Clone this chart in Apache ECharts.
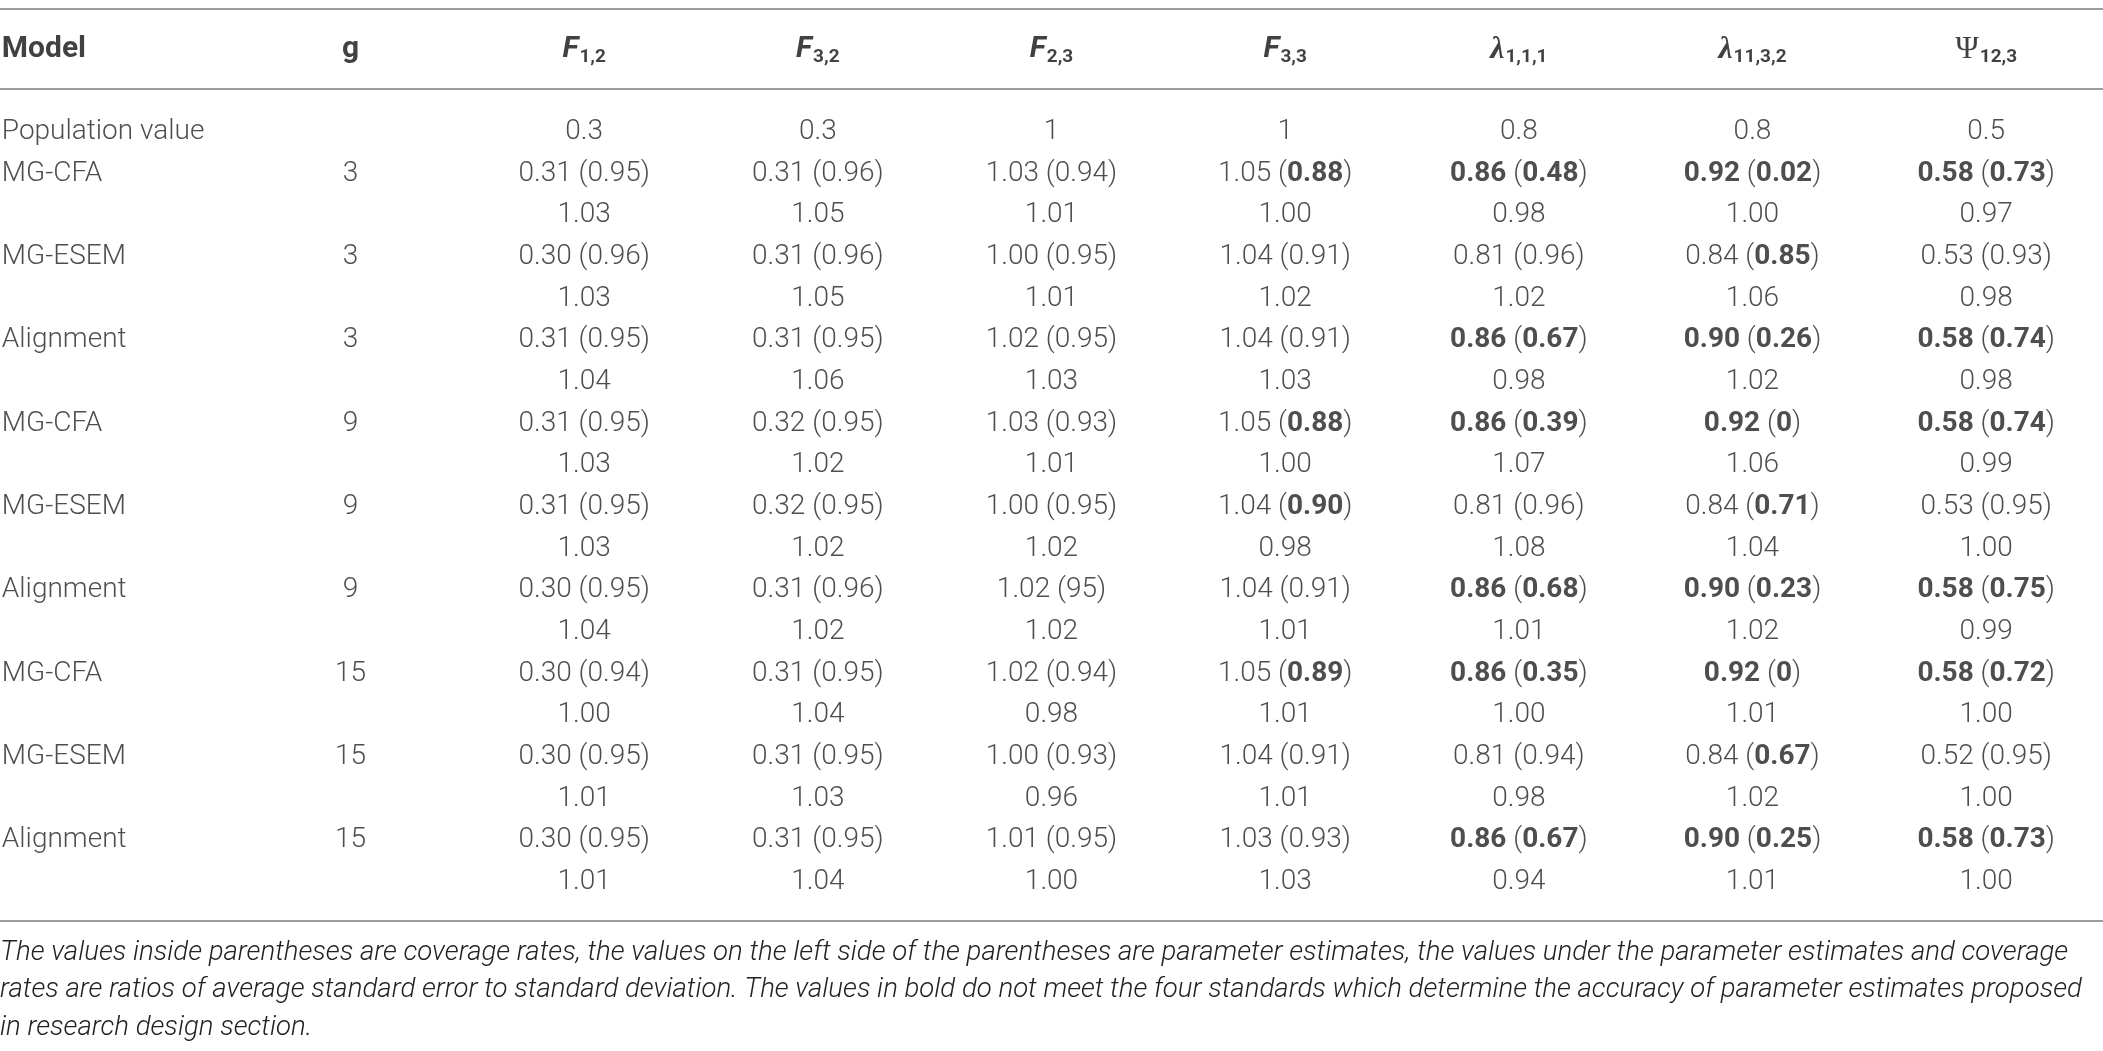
<!DOCTYPE html>
<html>
<head>
<meta charset="utf-8">
<title>Parameter estimates table</title>
<script src="https://cdn.jsdelivr.net/npm/echarts@6/dist/echarts.min.js"></script>
<style>
  html, body { margin: 0; padding: 0; background: #fff; }
  #container { width: 2103px; height: 1051px; }
</style>
</head>
<body>
<div id="container"></div>
<script>
const columnHeaders = [
  "{h|Model}",
  "{h|g}",
  "{fi|F}{sub|1,2}",
  "{fi|F}{sub|3,2}",
  "{fi|F}{sub|2,3}",
  "{fi|F}{sub|3,3}",
  "{lam|λ}{sub|1,1,1}",
  "{lam|λ}{sub|11,3,2}",
  "{psi|Ψ}{sub|12,3}"
];
const models = ["MG-CFA", "MG-ESEM", "Alignment", "MG-CFA", "MG-ESEM", "Alignment", "MG-CFA", "MG-ESEM", "Alignment"];
const groups = ["3", "3", "3", "9", "9", "9", "15", "15", "15"];
const populationValues = ["0.3", "0.3", "1", "1", "0.8", "0.8", "0.5"];
const estimates = [
  ["0.31", "0.31", "1.03", "1.05", "0.86", "0.92", "0.58"],
  ["0.30", "0.31", "1.00", "1.04", "0.81", "0.84", "0.53"],
  ["0.31", "0.31", "1.02", "1.04", "0.86", "0.90", "0.58"],
  ["0.31", "0.32", "1.03", "1.05", "0.86", "0.92", "0.58"],
  ["0.31", "0.32", "1.00", "1.04", "0.81", "0.84", "0.53"],
  ["0.30", "0.31", "1.02", "1.04", "0.86", "0.90", "0.58"],
  ["0.30", "0.31", "1.02", "1.05", "0.86", "0.92", "0.58"],
  ["0.30", "0.31", "1.00", "1.04", "0.81", "0.84", "0.52"],
  ["0.30", "0.31", "1.01", "1.03", "0.86", "0.90", "0.58"]
];
const coverage = [
  ["0.95", "0.96", "0.94", "0.88", "0.48", "0.02", "0.73"],
  ["0.96", "0.96", "0.95", "0.91", "0.96", "0.85", "0.93"],
  ["0.95", "0.95", "0.95", "0.91", "0.67", "0.26", "0.74"],
  ["0.95", "0.95", "0.93", "0.88", "0.39", "0", "0.74"],
  ["0.95", "0.95", "0.95", "0.90", "0.96", "0.71", "0.95"],
  ["0.95", "0.96", "95", "0.91", "0.68", "0.23", "0.75"],
  ["0.94", "0.95", "0.94", "0.89", "0.35", "0", "0.72"],
  ["0.95", "0.95", "0.93", "0.91", "0.94", "0.67", "0.95"],
  ["0.95", "0.95", "0.95", "0.93", "0.67", "0.25", "0.73"]
];
const seRatios = [
  ["1.03", "1.05", "1.01", "1.00", "0.98", "1.00", "0.97"],
  ["1.03", "1.05", "1.01", "1.02", "1.02", "1.06", "0.98"],
  ["1.04", "1.06", "1.03", "1.03", "0.98", "1.02", "0.98"],
  ["1.03", "1.02", "1.01", "1.00", "1.07", "1.06", "0.99"],
  ["1.03", "1.02", "1.02", "0.98", "1.08", "1.04", "1.00"],
  ["1.04", "1.02", "1.02", "1.01", "1.01", "1.02", "0.99"],
  ["1.00", "1.04", "0.98", "1.01", "1.00", "1.01", "1.00"],
  ["1.01", "1.03", "0.96", "1.01", "0.98", "1.02", "1.00"],
  ["1.01", "1.04", "1.00", "1.03", "0.94", "1.01", "1.00"]
];
// column indexes (0 = F1,2 ... 6 = Psi12,3) printed in bold
const boldEstimates = [[4, 5, 6], [], [4, 5, 6], [4, 5, 6], [], [4, 5, 6], [4, 5, 6], [], [4, 5, 6]];
const boldCoverage = [[3, 4, 5, 6], [5], [4, 5, 6], [3, 4, 5, 6], [3, 5], [4, 5, 6], [3, 4, 5, 6], [5], [4, 5, 6]];
const footnote = [
  "The values inside parentheses are coverage rates, the values on the left side of the parentheses are parameter estimates, the values under the parameter estimates and coverage",
  "rates are ratios of average standard error to standard deviation. The values in bold do not meet the four standards which determine the accuracy of parameter estimates proposed",
  "in research design section."
];

const FONT = "Roboto";
const TEXT = "#222";
const RULE = "#9c9c9c";
const HEADER_ROW = -1.97;

function tok(v, bold) {
  return bold ? "{b|" + v + "}" : v;
}

// model / population column (left aligned)
const modelCells = [{ value: [0, 0], cell: "Population value" }];
models.forEach((m, k) => {
  modelCells.push({ value: [0, 1 + 2 * k], cell: m });
});

// g column and parameter columns (centred)
const cells = [];
populationValues.forEach((v, j) => {
  cells.push({ value: [j + 2, 0], cell: v });
});
models.forEach((m, k) => {
  cells.push({ value: [1, 1 + 2 * k], cell: groups[k] });
  estimates[k].forEach((est, j) => {
    const txt = tok(est, boldEstimates[k].includes(j)) + " (" + tok(coverage[k][j], boldCoverage[k].includes(j)) + ")";
    cells.push({ value: [j + 2, 1 + 2 * k], cell: txt });
    cells.push({ value: [j + 2, 2 + 2 * k], cell: seRatios[k][j] });
  });
});

const headerCells = columnHeaders.map((h, i) => ({ value: [i, HEADER_ROW], cell: h }));

const rich = {
  b: { fontFamily: FONT, fontWeight: 700, fontSize: 28, color: TEXT },
  h: { fontFamily: FONT, fontWeight: 700, fontSize: 30, color: "#111", lineHeight: 32 },
  fi: { fontFamily: FONT, fontWeight: 700, fontStyle: "italic", fontSize: 30, color: "#111", lineHeight: 32 },
  lam: { fontFamily: "Liberation Serif", fontWeight: 700, fontStyle: "italic", fontSize: 32, color: "#111", lineHeight: 32 },
  psi: { fontFamily: "Liberation Serif", fontSize: 32, color: "#111", lineHeight: 32 },
  sub: { fontFamily: FONT, fontWeight: 700, fontSize: 19, color: "#111", lineHeight: 21, padding: [15, 0, 0, 1] }
};

const baseLabel = {
  show: true,
  fontFamily: FONT,
  fontWeight: 300,
  fontSize: 28,
  color: TEXT,
  rich: rich,
  formatter: (p) => p.data.cell
};

const dom = document.getElementById("container");
const myChart = echarts.init(dom, null, { renderer: "canvas" });

const option = {
  animation: false,
  backgroundColor: "#fff",
  title: {
    text: footnote.join("\n"),
    left: 0,
    top: 934,
    padding: 0,
    textStyle: {
      fontFamily: FONT,
      fontWeight: 300,
      fontStyle: "italic",
      fontSize: 27.6,
      lineHeight: 37.5,
      color: TEXT
    }
  },
  grid: { left: 0, right: 0, top: 7, bottom: 127.3 },
  xAxis: {
    type: "category",
    data: columnHeaders,
    boundaryGap: true,
    show: false
  },
  yAxis: {
    type: "value",
    inverse: true,
    min: -3,
    max: 19,
    show: false,
    splitLine: { show: false }
  },
  series: [
    {
      name: "cells",
      type: "scatter",
      symbolSize: 1,
      itemStyle: { color: "rgba(0,0,0,0)" },
      silent: true,
      label: Object.assign({}, baseLabel, { position: "inside" }),
      data: cells,
      markLine: {
        silent: true,
        symbol: "none",
        label: { show: false },
        lineStyle: { color: RULE, width: 2, type: "solid" },
        data: [{ yAxis: -2.95 }, { yAxis: -1.03 }, { yAxis: 18.93 }]
      }
    },
    {
      name: "models",
      type: "scatter",
      symbolSize: 1,
      itemStyle: { color: "rgba(0,0,0,0)" },
      silent: true,
      label: Object.assign({}, baseLabel, { position: "inside", align: "left", offset: [-115, 0] }),
      data: modelCells
    },
    {
      name: "headers",
      type: "scatter",
      symbolSize: 1,
      itemStyle: { color: "rgba(0,0,0,0)" },
      silent: true,
      label: Object.assign({}, baseLabel, { position: "inside" }),
      data: headerCells.slice(1)
    },
    {
      name: "modelHeader",
      type: "scatter",
      symbolSize: 1,
      itemStyle: { color: "rgba(0,0,0,0)" },
      silent: true,
      label: Object.assign({}, baseLabel, { position: "inside", align: "left", offset: [-115, 0] }),
      data: headerCells.slice(0, 1)
    }
  ]
};

myChart.setOption(option);
window.addEventListener("resize", myChart.resize);
</script>
</body>
</html>
